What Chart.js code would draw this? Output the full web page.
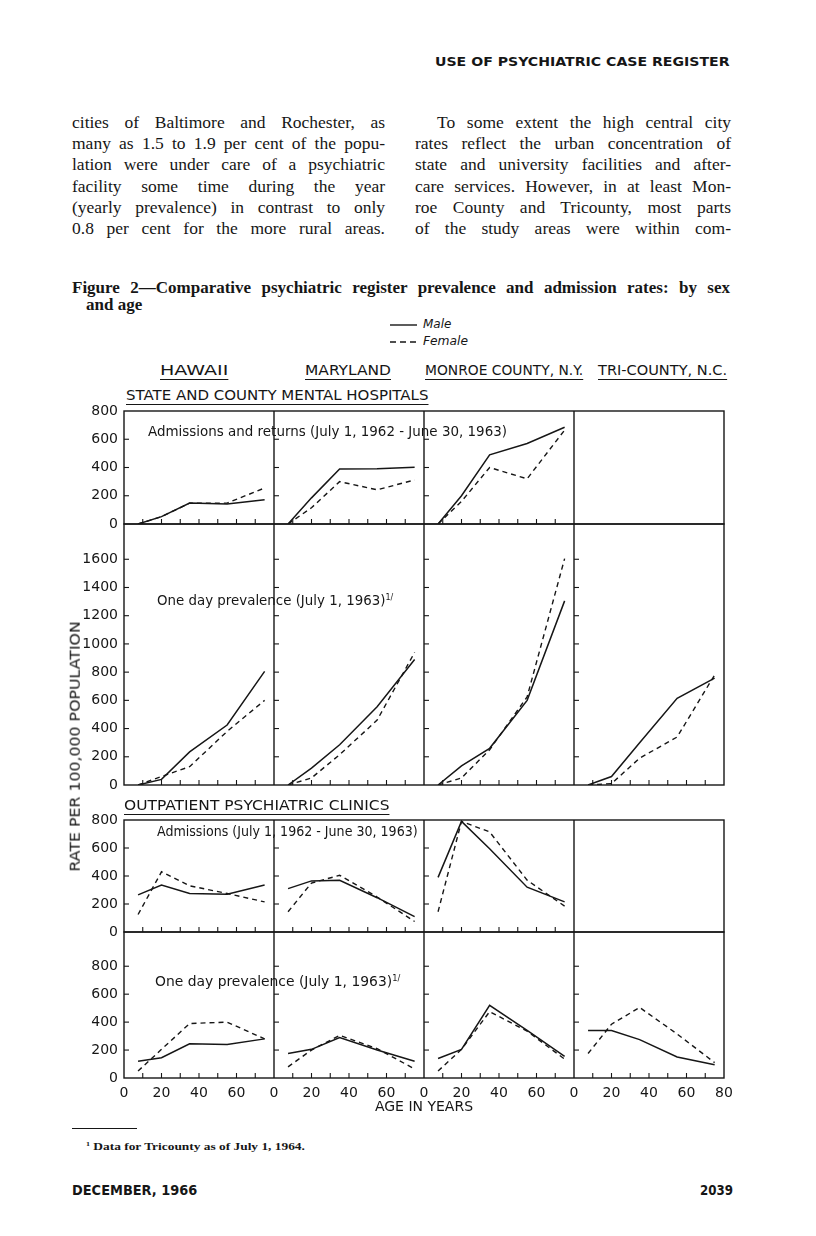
<!DOCTYPE html>
<html>
<head>
<meta charset="utf-8">
<script src="https://cdn.jsdelivr.net/npm/chart.js@4.4.1/dist/chart.umd.min.js"></script>
<style>
  html, body { margin: 0; padding: 0; background: #fff; }
  #page { position: relative; width: 816px; height: 1236px; overflow: hidden; color: #161616; background: #fff; }
  .t { position: absolute; white-space: nowrap; line-height: 1.2; transform-origin: 0 0; }
  .serif { font-family: 'Liberation Serif', 'DejaVu Serif', serif; }
  .sans { font-family: 'DejaVu Sans', sans-serif; }
  .jl { position: absolute; font-family: 'Liberation Serif', serif; font-size: 17.5px; line-height: 21px;
        text-align: justify; text-align-last: justify; white-space: nowrap; }
  .ul { text-decoration: underline; text-decoration-thickness: 1.3px; text-underline-offset: 4px; }
  canvas { position: absolute; }
  sup { font-size: 0.6em; vertical-align: 0.55em; line-height: 0; }
</style>
</head>
<body>
<div id="page">
  <div class="t sans" style="left:435px;top:54px;font-size:13px;font-weight:bold;" data-w="295">USE OF PSYCHIATRIC CASE REGISTER</div>

  <div class="jl" style="left:72px;top:112px;width:313px;">cities of Baltimore and Rochester, as</div>
  <div class="jl" style="left:72px;top:133px;width:313px;">many as 1.5 to 1.9 per cent of the popu-</div>
  <div class="jl" style="left:72px;top:154px;width:313px;">lation were under care of a psychiatric</div>
  <div class="jl" style="left:72px;top:175.5px;width:313px;">facility some time during the year</div>
  <div class="jl" style="left:72px;top:197px;width:313px;">(yearly prevalence) in contrast to only</div>
  <div class="jl" style="left:72px;top:218px;width:313px;">0.8 per cent for the more rural areas.</div>

  <div class="jl" style="left:437px;top:112px;width:294px;">To some extent the high central city</div>
  <div class="jl" style="left:415px;top:133px;width:316px;">rates reflect the urban concentration of</div>
  <div class="jl" style="left:415px;top:154px;width:316px;">state and university facilities and after-</div>
  <div class="jl" style="left:415px;top:175.5px;width:316px;">care services. However, in at least Mon-</div>
  <div class="jl" style="left:415px;top:197px;width:316px;">roe County and Tricounty, most parts</div>
  <div class="jl" style="left:415px;top:218px;width:316px;">of the study areas were within com-</div>

  <div class="jl" style="left:72px;top:277px;width:658px;font-size:17px;font-weight:bold;">Figure 2—Comparative psychiatric register prevalence and admission rates: by sex</div>
  <div class="t serif" style="left:86px;top:295px;font-size:17px;font-weight:bold;">and age</div>

  <svg class="t" style="left:389px;top:322px;" width="30" height="24">
    <line x1="1" y1="3" x2="28" y2="3" stroke="#161616" stroke-width="1.4"/>
    <line x1="1" y1="20" x2="28" y2="20" stroke="#161616" stroke-width="1.4" stroke-dasharray="6,4"/>
  </svg>
  <div class="t sans" style="left:423px;top:317px;font-size:12px;font-style:italic;" data-w="28">Male</div>
  <div class="t sans" style="left:423px;top:334px;font-size:12px;font-style:italic;" data-w="45">Female</div>

  <div class="t sans ul" style="left:160px;top:362px;font-size:14px;" data-w="68">HAWAII</div>
  <div class="t sans ul" style="left:305px;top:362px;font-size:14px;" data-w="86">MARYLAND</div>
  <div class="t sans ul" style="left:425px;top:362px;font-size:14px;" data-w="158">MONROE COUNTY, N.Y.</div>
  <div class="t sans ul" style="left:598px;top:362px;font-size:14px;" data-w="129">TRI-COUNTY, N.C.</div>
  <div class="t sans ul" style="left:126px;top:387px;font-size:14px;" data-w="302">STATE AND COUNTY MENTAL HOSPITALS</div>

  <canvas id="r0"></canvas>
  <canvas id="r1"></canvas>
  <canvas id="r2"></canvas>
  <canvas id="r3"></canvas>

  <div class="t sans" style="left:148px;top:423px;font-size:14px;" data-w="359">Admissions and returns (July 1, 1962 - June 30, 1963)</div>
  <div class="t sans" style="left:157px;top:592px;font-size:14px;" data-w="236">One day prevalence (July 1, 1963)<sup>1/</sup></div>
  <div class="t sans ul" style="left:124px;top:797px;font-size:14px;" data-w="266">OUTPATIENT PSYCHIATRIC CLINICS</div>
  <div class="t sans" style="left:157px;top:823px;font-size:14px;" data-w="261">Admissions (July 1, 1962 - June 30, 1963)</div>
  <div class="t sans" style="left:155px;top:973px;font-size:14px;" data-w="245">One day prevalence (July 1, 1963)<sup>1/</sup></div>

  <div class="t sans" id="ytitle" style="font-size:14px;" data-w="250" data-cx="75" data-cy="746">RATE PER 100,000 POPULATION</div>

  <div class="t" style="left:72px;top:1128px;width:65px;height:0;border-top:1px solid #161616;"></div>
  <div class="t serif" style="left:86px;top:1140px;font-size:11px;font-weight:bold;" data-w="219"><sup>1</sup> Data for Tricounty as of July 1, 1964.</div>

  <div class="t sans" style="left:72px;top:1182px;font-size:14px;font-weight:bold;" data-w="125">DECEMBER, 1966</div>
  <div class="t sans" style="left:700px;top:1182px;font-size:14px;font-weight:bold;" data-w="33">2039</div>
</div>

<script>
// age group midpoints (years)
const ages = [7.5, 20, 35, 55, 75];
const columns = ['HAWAII', 'MARYLAND', 'MONROE COUNTY, N.Y.', 'TRI-COUNTY, N.C.'];

// state and county mental hospitals: admissions and returns, per 100,000
const hospAdmMale   = [[0, 52, 148, 142, 172], [0, 185, 390, 392, 402], [0, 200, 490, 570, 685], null];
const hospAdmFemale = [[0, 52, 148, 148, 255], [0, 115, 300, 242, 312], [0, 160, 400, 320, 665], null];

// state and county mental hospitals: one day prevalence
const hospPrevMale   = [[0, 40, 235, 425, 805], [0, 120, 285, 555, 890], [0, 135, 260, 600, 1305], [0, 60, 300, 615, 757]];
const hospPrevFemale = [[0, 60, 130, 380, 600], [0, 50, 215, 460, 940], [0, 50, 250, 625, 1605], [0, 10, 190, 340, 780]];

// outpatient psychiatric clinics: admissions
const clinAdmMale   = [[265, 335, 275, 270, 335], [310, 365, 370, 245, 110], [390, 790, 595, 320, 215], null];
const clinAdmFemale = [[125, 430, 330, 275, 215], [145, 350, 405, 250, 75], [145, 790, 715, 370, 185], null];

// outpatient psychiatric clinics: one day prevalence
const clinPrevMale   = [[120, 145, 245, 240, 280], [175, 205, 290, 200, 120], [140, 205, 520, 340, 155], [340, 340, 275, 150, 95]];
const clinPrevFemale = [[50, 205, 390, 400, 280], [80, 200, 305, 210, 65], [50, 205, 475, 335, 135], [175, 385, 505, 315, 110]];

// y axis limits and highest labelled tick for each row
const yMax = [800, 1850, 800, 1045];
const yTopTick = [800, 1600, 800, 800];

const INK = '#161616';
Chart.defaults.font.family = "'DejaVu Sans', sans-serif";
Chart.defaults.font.size = 14;
Chart.defaults.color = INK;

// fit the scanned lettering to the widths measured off the page
document.querySelectorAll('[data-w]').forEach(el => {
  const k = +el.dataset.w / el.offsetWidth;
  if (el.id === 'ytitle') {
    el.style.left = (+el.dataset.cx - el.offsetWidth / 2) + 'px';
    el.style.top = (+el.dataset.cy - el.offsetHeight / 2) + 'px';
    el.style.transformOrigin = '50% 50%';
    el.style.transform = `rotate(-90deg) scaleX(${k})`;
  } else {
    el.style.transform = `scaleX(${k})`;
  }
});

// panel frame: borders, column dividers and inward ticks
const framePlugin = {
  id: 'frame',
  afterDatasetsDraw(chart, args, opts) {
    const { ctx, chartArea: a, scales: { x, y } } = chart;
    const seg = (x1, y1, x2, y2) => { ctx.beginPath(); ctx.moveTo(x1, y1); ctx.lineTo(x2, y2); ctx.stroke(); };
    ctx.save();
    ctx.strokeStyle = INK;
    ctx.lineWidth = 1.4;
    ctx.strokeRect(a.left, a.top, a.right - a.left, a.bottom - a.top);
    for (let c = 1; c < 4; c++) {
      const px = x.getPixelForValue(c * 80);
      seg(px, a.top, px, a.bottom);
    }
    ctx.lineWidth = 1.1;
    opts.cols.forEach((has, c) => {
      if (!has) return;
      const x0 = x.getPixelForValue(c * 80);
      y.ticks.forEach(t => {
        if (t.value > 0 && t.value < y.max) {
          const py = y.getPixelForValue(t.value);
          seg(x0, py, x0 + 5, py);
        }
      });
      for (let v = 10; v < 80; v += 10) {
        const px = x.getPixelForValue(c * 80 + v);
        seg(px, a.bottom, px, a.bottom - 5);
      }
    });
    ctx.restore();
  }
};

const rows = [
  { male: hospAdmMale, female: hospAdmFemale, top: 411, bottom: 524 },
  { male: hospPrevMale, female: hospPrevFemale, top: 524, bottom: 785 },
  { male: clinAdmMale, female: clinAdmFemale, top: 820, bottom: 932 },
  { male: clinPrevMale, female: clinPrevFemale, top: 932, bottom: 1078 }
];

rows.forEach((row, r) => {
  const last = r === rows.length - 1;
  const padTop = 8, padBottom = last ? 4 : 8, axisH = last ? 38 : 0, yAxisW = 50, padRight = 12;
  const canvas = document.getElementById('r' + r);
  canvas.width = yAxisW + 600 + padRight;
  canvas.height = padTop + (row.bottom - row.top) + axisH + padBottom;
  canvas.style.left = (124 - yAxisW) + 'px';
  canvas.style.top = (row.top - padTop) + 'px';

  const datasets = [];
  columns.forEach((name, c) => {
    if (!row.male[c]) return;
    datasets.push({
      label: name + ' male',
      data: ages.map((a, i) => ({ x: c * 80 + a, y: row.male[c][i] })),
      borderColor: INK, borderWidth: 1.5, pointRadius: 0, fill: false
    });
    datasets.push({
      label: name + ' female',
      data: ages.map((a, i) => ({ x: c * 80 + a, y: row.female[c][i] })),
      borderColor: INK, borderWidth: 1.4, borderDash: [5, 4], pointRadius: 0, fill: false
    });
  });

  new Chart(canvas, {
    type: 'line',
    data: { datasets },
    options: {
      responsive: false,
      animation: false,
      devicePixelRatio: 1,
      layout: { autoPadding: false, padding: { top: padTop, right: padRight, bottom: padBottom, left: 0 } },
      plugins: {
        legend: { display: false },
        tooltip: { enabled: false },
        frame: { cols: row.male.map(m => !!m) }
      },
      scales: {
        x: {
          type: 'linear', min: 0, max: 320, display: last,
          grid: { display: false, drawTicks: false },
          border: { display: false },
          ticks: {
            stepSize: 20, padding: 7, autoSkip: false, maxRotation: 0,
            callback: v => v === 320 ? '80' : String(v % 80)
          },
          title: { display: true, text: 'AGE IN YEARS', padding: { top: 0, bottom: 0 } },
          afterFit: s => { s.height = axisH; s.paddingLeft = 0; s.paddingRight = 0; }
        },
        y: {
          min: 0, max: yMax[r],
          grid: { display: false, drawTicks: false },
          border: { display: false },
          ticks: { stepSize: 200, padding: 6, callback: v => String(v) },
          afterBuildTicks: s => { s.ticks = s.ticks.filter(t => t.value <= yTopTick[r]); },
          afterFit: s => { s.width = yAxisW; s.paddingTop = 0; s.paddingBottom = 0; }
        }
      }
    },
    plugins: [framePlugin]
  });
});
</script>
</body>
</html>
